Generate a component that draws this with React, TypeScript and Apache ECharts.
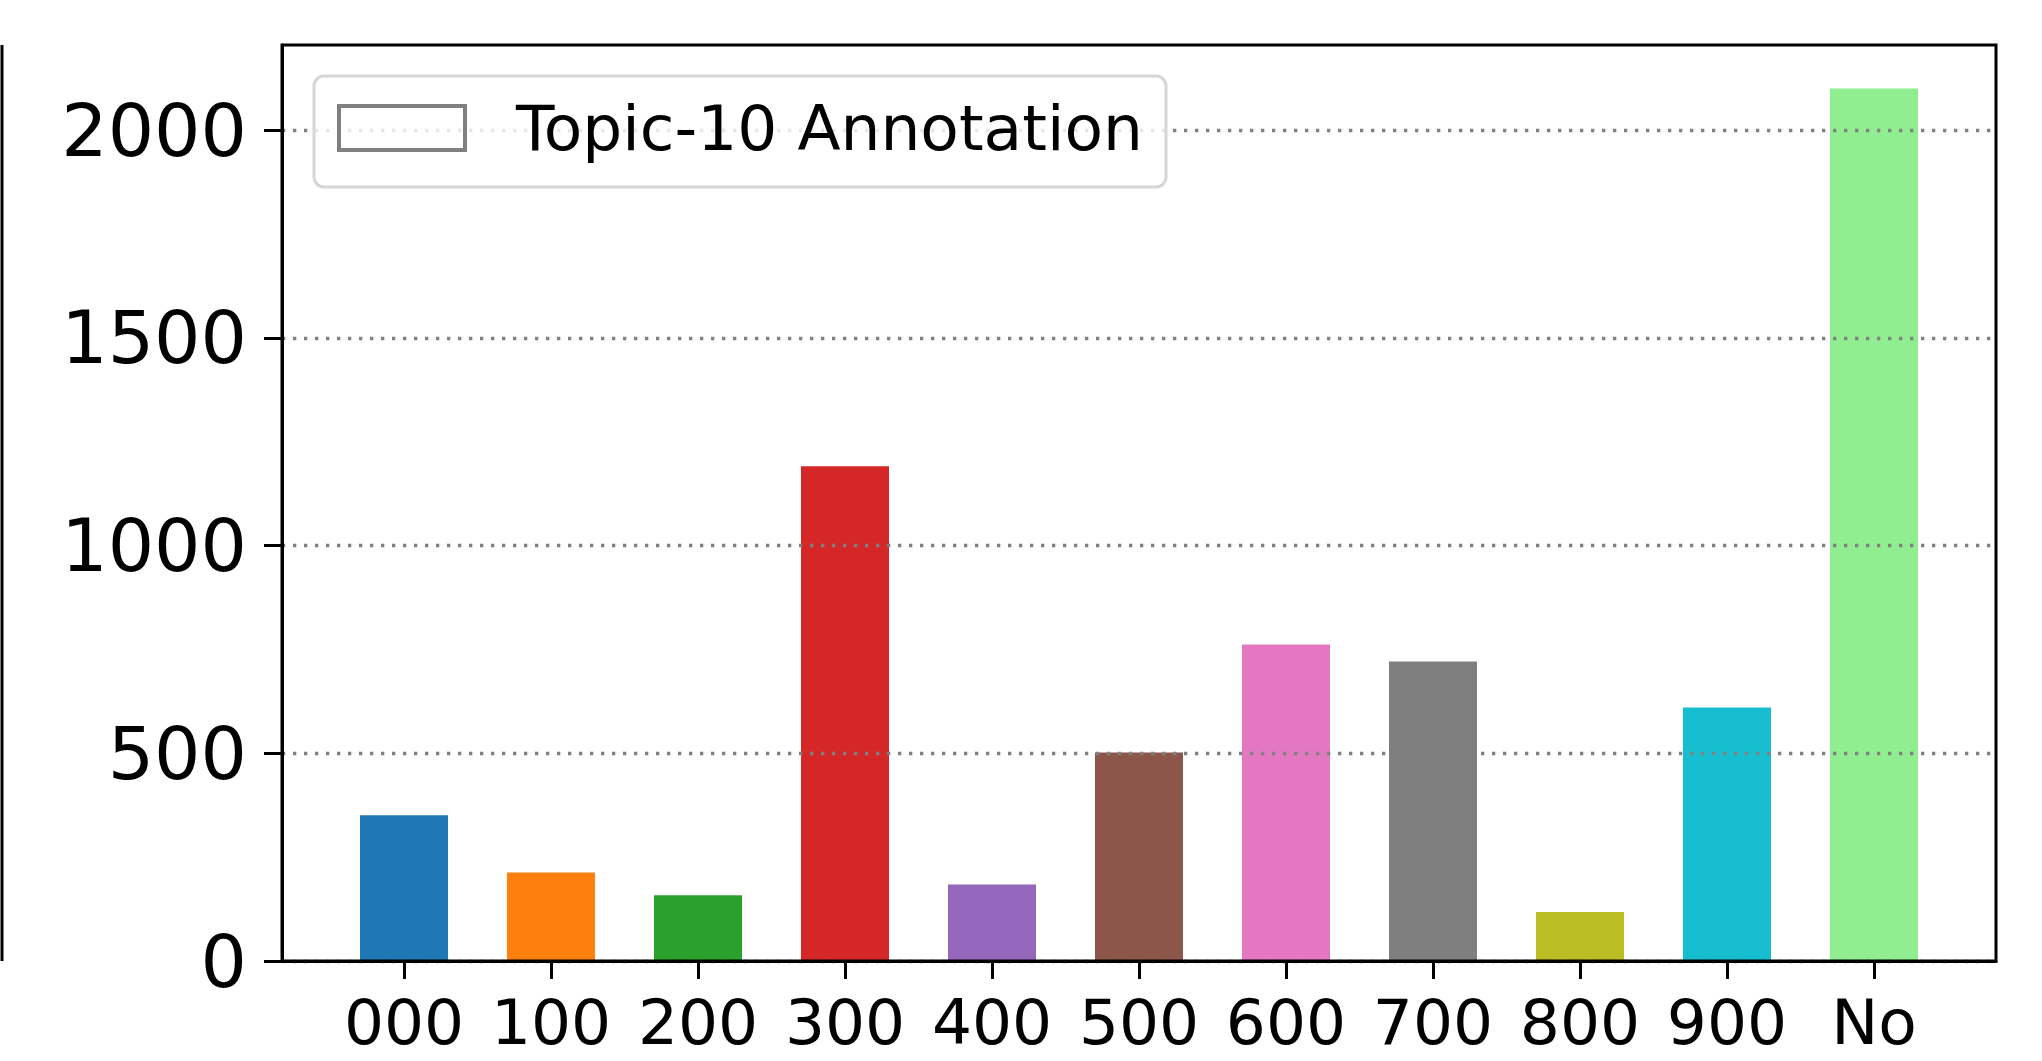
import React, { useEffect, useRef } from "react";
import * as echarts from "echarts";

const categories = ["000", "100", "200", "300", "400", "500", "600", "700", "800", "900", "No"];
const counts = [351, 213, 158, 1191, 184, 502, 762, 721, 118, 610, 2100];
const barColors = ["#1f77b4", "#ff7f0e", "#2ca02c", "#d62728", "#9467bd", "#8c564b", "#e377c2", "#7f7f7f", "#bcbd22", "#17becf", "#90ee90"];
const yTicks = [0, 500, 1000, 1500, 2000];
const legendLabel = "Topic-10 Annotation";

const FONT = "DejaVu Sans";

export default function App() {
  const ref = useRef<HTMLDivElement>(null);
  useEffect(() => {
    if (!ref.current) return;
    const chart = echarts.init(ref.current, undefined, { renderer: "svg" });
    const xIdx = categories.map((_, i) => i);
    const L = 282, R = 1996, T = 45, B = 961;
    chart.setOption({
      animation: false,
      backgroundColor: "#ffffff",
      grid: { left: L, right: 2042 - R, top: T, bottom: 1061 - B, containLabel: false },
      xAxis: {
        type: "value",
        min: -0.83,
        max: 10.83,
        z: 5,
        axisLine: { show: true, onZero: false, lineStyle: { color: "#000", width: 3 } },
        axisTick: { show: true, customValues: xIdx, length: 18, lineStyle: { color: "#000", width: 3 } },
        axisLabel: {
          customValues: xIdx,
          formatter: (v: number) => categories[Math.round(v)] ?? "",
          fontFamily: FONT,
          fontSize: 63,
          color: "#000",
          margin: 30,
        },
        splitLine: { show: false },
      },
      yAxis: {
        type: "value",
        min: 0,
        max: 2205,
        interval: 500,
        z: 5,
        axisLine: { show: true, onZero: false, lineStyle: { color: "#000", width: 3 } },
        axisTick: { show: true, customValues: yTicks, length: 18, lineStyle: { color: "#000", width: 3 } },
        axisLabel: {
          customValues: yTicks,
          formatter: (v: number) => String(v),
          fontFamily: FONT,
          fontSize: 73,
          color: "#000",
          margin: 35,
        },
        splitLine: {
          show: true,
          lineStyle: { color: "#808080", width: 3.3, type: [3.3, 7.7] },
        },
      },
      series: [
        {
          type: "bar",
          barWidth: 88,
          z: 2,
          data: counts.map((v, i) => ({ value: [i, v], itemStyle: { color: barColors[i] } })),
        },
      ],
      graphic: [
        {
          type: "rect",
          z: 100,
          shape: { x: L, y: T, width: R - L, height: B - T },
          style: { fill: "none", stroke: "#000", lineWidth: 3 },
          silent: true,
        },
        {
          type: "line",
          z: 100,
          shape: { x1: 2, y1: T, x2: 2, y2: B },
          style: { stroke: "#000", lineWidth: 3 },
          silent: true,
        },
        {
          type: "rect",
          z: 50,
          shape: { x: 314, y: 76, width: 852, height: 111, r: 10 },
          style: { fill: "rgba(255,255,255,0.8)", stroke: "#d6d6d6", lineWidth: 3 },
          silent: true,
        },
        {
          type: "rect",
          z: 51,
          shape: { x: 339, y: 106, width: 126, height: 44 },
          style: { fill: "none", stroke: "#808080", lineWidth: 4 },
          silent: true,
        },
        {
          type: "text",
          z: 51,
          x: 516,
          y: 128,
          style: {
            text: legendLabel,
            fontFamily: FONT,
            fontSize: 63,
            fill: "#000",
            verticalAlign: "middle",
            align: "left",
          },
          silent: true,
        },
      ],
    });
    return () => chart.dispose();
  }, []);
  return (
    <div
      ref={ref}
      style={{ position: "absolute", left: 0, top: 0, width: 2042, height: 1061 }}
    />
  );
}
